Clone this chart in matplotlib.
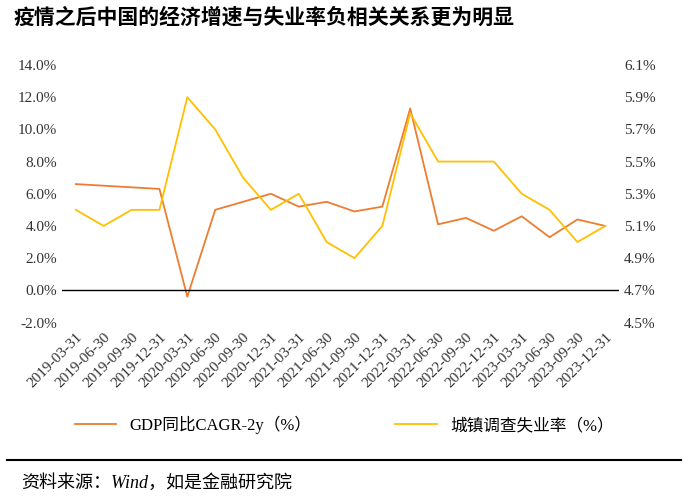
import matplotlib.pyplot as plt
from matplotlib.ticker import FuncFormatter

plt.rcParams['font.family'] = ['Liberation Serif', 'Noto Sans CJK SC', 'DejaVu Sans']

dates = ['2019-03-31', '2019-06-30', '2019-09-30', '2019-12-31',
         '2020-03-31', '2020-06-30', '2020-09-30', '2020-12-31',
         '2021-03-31', '2021-06-30', '2021-09-30', '2021-12-31',
         '2022-03-31', '2022-06-30', '2022-09-30', '2022-12-31',
         '2023-03-31', '2023-06-30', '2023-09-30', '2023-12-31']
gdp_cagr = [6.6, 6.5, 6.4, 6.3, -0.4, 5.0, 5.5, 6.0, 5.2, 5.5, 4.9, 5.2,
            11.3, 4.1, 4.5, 3.7, 4.6, 3.3, 4.4, 4.0]
unemp = [5.2, 5.1, 5.2, 5.2, 5.9, 5.7, 5.4, 5.2, 5.3, 5.0, 4.9, 5.1,
         5.8, 5.5, 5.5, 5.5, 5.3, 5.2, 5.0, 5.1]

fig = plt.figure(figsize=(6.88, 5.0), dpi=100)
ax = fig.add_axes([0.09, 0.355, 0.81, 0.515])
x = range(len(dates))
l1, = ax.plot(x, gdp_cagr, color='#ED7D31', lw=1.3, label='GDP同比CAGR-2y（%）')
ax.set_ylim(-2, 14)
ax.set_yticks(range(-2, 15, 2))
ax.yaxis.set_major_formatter(FuncFormatter(lambda v, p: f'{v:.1f}%'))
ax.axhline(0, color='black', lw=1)
ax2 = ax.twinx()
l2, = ax2.plot(x, unemp, color='#FFC000', lw=1.3, label='城镇调查失业率（%）')
ax2.set_ylim(4.5, 6.1)
ax2.set_yticks([4.5 + 0.2 * i for i in range(9)])
ax2.yaxis.set_major_formatter(FuncFormatter(lambda v, p: f'{v:.1f}%'))
ax.set_xlim(-0.5, len(dates) - 0.5)
ax.set_xticks(list(x))
ax.set_xticklabels(dates, rotation=45, ha='right', rotation_mode='anchor')
for a in (ax, ax2):
    for s in a.spines.values():
        s.set_visible(False)
    a.tick_params(length=0, labelsize=11, colors='#333333')
ax.tick_params(axis='x', pad=6)

fig.legend([l1, l2], [l1.get_label(), l2.get_label()], loc='center',
           bbox_to_anchor=(0.5, 0.15), ncol=2, frameon=False, fontsize=12,
           columnspacing=5, handlelength=2.5)
fig.text(0.02, 0.965, '疫情之后中国的经济增速与失业率负相关关系更为明显',
         fontsize=15, fontweight='bold', va='center',
         family=['Noto Sans CJK SC', 'DejaVu Sans'])
fig.add_artist(plt.Line2D([0.01, 0.99], [0.08, 0.08], color='black', lw=1.5))
fig.text(0.03, 0.035, '资料来源：Wind，如是金融研究院', fontsize=13,
         style='italic', va='center')
fig.savefig('out.png', dpi=100)
